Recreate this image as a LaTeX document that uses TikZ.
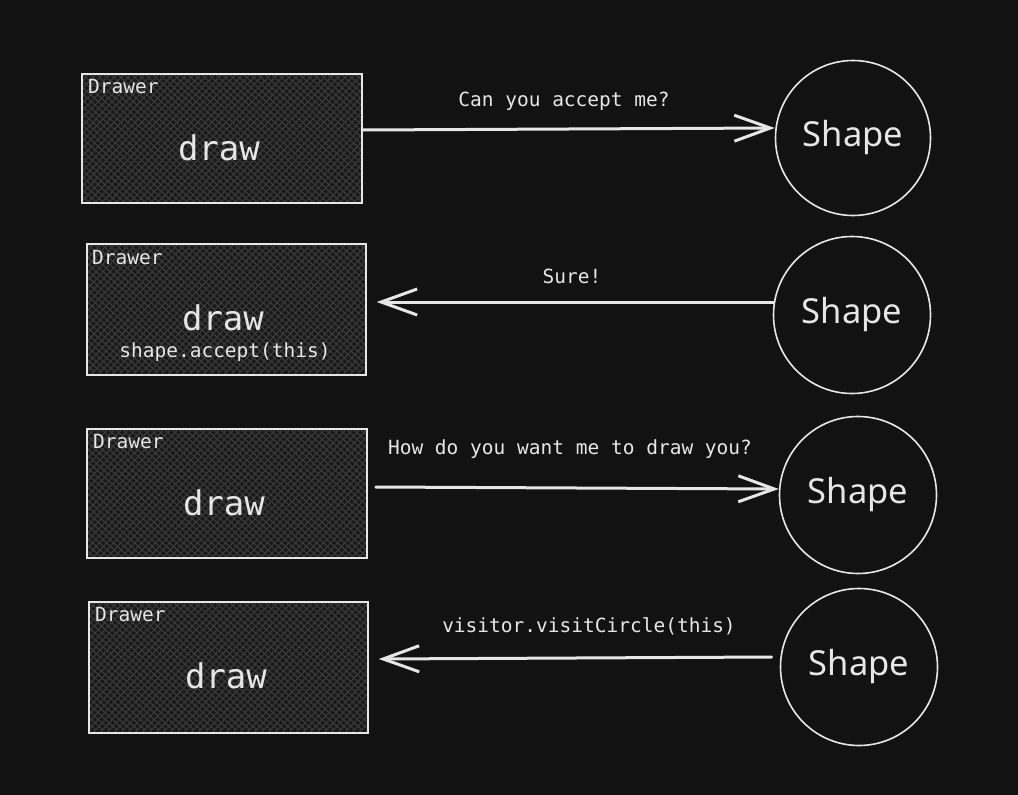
\documentclass[tikz,border=0pt]{standalone}
\usepackage{fontspec}
\setmainfont{Noto Sans}
\setmonofont{DejaVu Sans Mono}
\usetikzlibrary{arrows.meta}
\definecolor{bg}{HTML}{121212}
\definecolor{ink}{HTML}{E6E6E6}
\definecolor{boxfill}{HTML}{1A1A1A}
\definecolor{hatch}{HTML}{3C3C3C}
\tikzset{
  drawerbox/.style={draw=ink, line width=1.5pt, fill=boxfill, inner sep=0pt,
    path picture={
      \foreach \i in {-140,-133,...,290} {
        \draw[hatch, line width=1pt] ([xshift=\i pt]path picture bounding box.north west) -- ++(140,128);
        \draw[hatch, line width=1pt] ([xshift=\i pt]path picture bounding box.north west) ++(140,0) -- ++(-140,150);
      }
    }},
  shapecircle/.style={circle, draw=ink, line width=1.6pt, inner sep=0pt, minimum size=155pt,
    text=ink, font=\fontsize{34.5}{34.5}\selectfont},
  smalltxt/.style={text=ink, font=\ttfamily\fontsize{19.5}{19.5}\selectfont, inner sep=0pt},
  bigtxt/.style={text=ink, font=\ttfamily\fontsize{34}{34}\selectfont, inner sep=0pt},
  msg/.style={-{Straight Barb[length=36pt,width=26pt,line width=3pt]}, draw=ink, line width=3pt, line cap=round},
}
\begin{document}
\begin{tikzpicture}[x=1pt,y=-1pt]
\fill[bg] (0,0) rectangle (1018,795);
\useasboundingbox (0,0) rectangle (1018,795);

% boxes
\node[drawerbox, minimum width=280pt, minimum height=129pt] (b1) at (222,138.5) {};
\node[drawerbox, minimum width=279pt, minimum height=131pt] (b2) at (226.5,309.5) {};
\node[drawerbox, minimum width=280pt, minimum height=129pt] (b3) at (227,493.5) {};
\node[drawerbox, minimum width=279pt, minimum height=131pt] (b4) at (228.5,667.5) {};

% box texts
\node[smalltxt, anchor=west] (d1) at (88,87) {Drawer};
\node[smalltxt, anchor=west] (d2) at (92,258) {Drawer};
\node[smalltxt, anchor=west] (d3) at (93,442) {Drawer};
\node[smalltxt, anchor=west] (d4) at (95,615) {Drawer};
\node[bigtxt] (w1) at (219,148) {draw};
\node[bigtxt] (w2) at (223,318) {draw};
\node[smalltxt] (a2) at (225,352) {shape.accept(this)};
\node[bigtxt] (w3) at (224,503) {draw};
\node[bigtxt] (w4) at (226,676) {draw};

% circles
\node[shapecircle] (c1) at (853,138) {Shape};
\node[shapecircle, minimum size=157pt] (c2) at (852,315) {Shape};
\node[shapecircle, minimum size=157pt] (c3) at (858,495) {Shape};
\node[shapecircle, minimum size=157pt] (c4) at (859,667) {Shape};

% messages
\node[smalltxt] (l1) at (564,101) {Can you accept me?};
\node[smalltxt] (l2) at (572,276) {Sure!};
\node[smalltxt] (l3) at (570,449) {How do you want me to draw you?};
\node[smalltxt] (l4) at (589,626) {visitor.visitCircle(this)};

\draw[msg] ([yshift=8.5pt]b1.east) -- ([yshift=10pt]c1.west);
\draw[msg] ([yshift=13pt,xshift=1pt]c2.west) -- ([yshift=7.5pt,xshift=10pt]b2.east);
\draw[msg] ([yshift=6.5pt,xshift=8pt]b3.east) -- ([yshift=6pt]c3.west);
\draw[msg] ([yshift=10pt,xshift=-8pt]c4.west) -- ([yshift=8.5pt,xshift=10pt]b4.east);
\end{tikzpicture}
\end{document}
